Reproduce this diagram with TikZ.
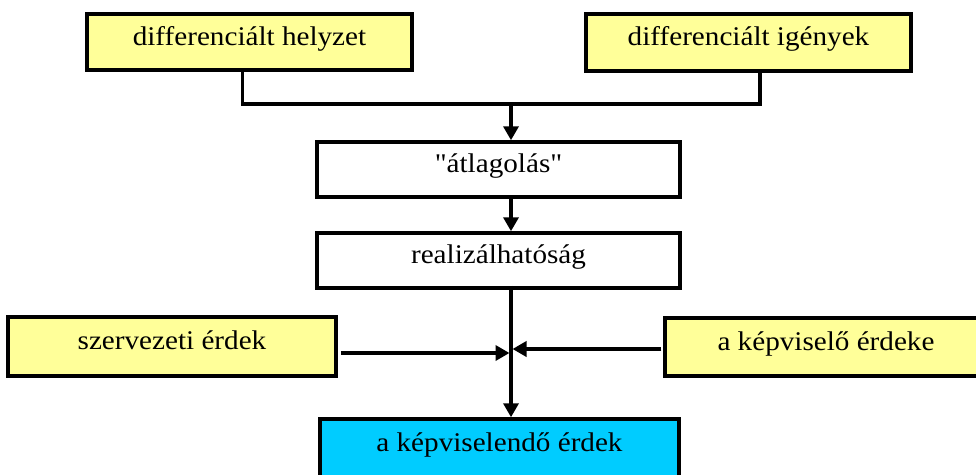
\documentclass[tikz,border=0pt]{standalone}
\usepackage{fontspec}
\setmainfont{Liberation Serif}[FakeStretch=1.08, Ligatures=TeXOff]
\usetikzlibrary{arrows.meta}
\definecolor{boxyellow}{RGB}{255,255,153}
\definecolor{boxcyan}{RGB}{0,204,255}
\begin{document}
\begin{tikzpicture}[x=1pt, y=-1pt, font=\fontsize{27}{31}\selectfont, >={Triangle[length=14pt, width=15pt]},
          box/.style={draw, line width=3.5pt, inner sep=0pt, text height=19pt, text depth=13pt, align=center},
          ybox/.style={box, fill=boxyellow},
          line/.style={line width=3.5pt},
          arr/.style={->, line width=3.5pt}]
        \useasboundingbox (0,0) rectangle (976,474);
        \node[ybox, minimum width=325pt, minimum height=56pt] (hely) at (249.5,42) {differenciált helyzet};
        \node[ybox, minimum width=325pt, minimum height=57pt] (igeny) at (748.5,42.5) {differenciált igények};
        \node[box, minimum width=363pt, minimum height=55pt] (atlag) at (498.5,169.5) {"átlagolás"};
        \node[box, minimum width=363pt, minimum height=55pt] (real) at (498.5,260.5) {realizálhatóság};
        \node[ybox, minimum width=328pt, minimum height=59pt] (szerv) at (172,346.5) {szervezeti érdek};
        \node[ybox, minimum width=322pt, minimum height=58pt] (kepv) at (826,347) {a képviselő érdeke};
        \node[box, fill=boxcyan, minimum width=359pt, minimum height=59pt] (kepvd) at (499.5,448.5) {a képviselendő érdek};
        \coordinate (join) at (511,104);
        \coordinate (hub) at (511,351);
        \draw[line] ([xshift=-7pt]hely.south) |- (join) -| ([xshift=11.5pt]igeny.south);
        \draw[arr] (join) -- (join |- atlag.north);
        \draw[arr] (atlag.south -| join) -- (real.north -| join);
        \draw[arr] ([yshift=4pt]real.south -| join) -- (kepvd.north -| join);
        \draw[arr, shorten <=3pt, shorten >=1.5pt] ([yshift=-6.5pt]szerv.east) -- ([yshift=-6.5pt]szerv.east -| hub);
        \draw[arr, shorten <=2pt, shorten >=1.5pt] ([yshift=-2pt]kepv.west) -- ([yshift=-2pt]kepv.west -| hub);
      \end{tikzpicture}
\end{document}
